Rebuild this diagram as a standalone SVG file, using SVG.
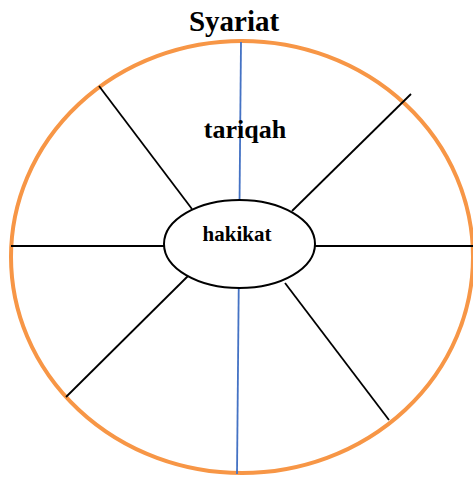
<svg xmlns="http://www.w3.org/2000/svg" width="473" height="478" viewBox="0 0 473 478">
<style>
.lbl{font-family:"Liberation Serif","Times New Roman",serif;font-weight:bold;fill:#000;text-anchor:middle}
.spoke{stroke:#000;stroke-width:1.8;fill:none}
</style>
<rect width="473" height="478" fill="#fff"/>
<g id="outer">
<ellipse cx="242" cy="257" rx="231" ry="216" fill="none" stroke="#F79646" stroke-width="4"/>
</g>
<g id="connectors">
<line x1="241" y1="42" x2="237" y2="474" stroke="#4472C4" stroke-width="1.8"/>
<line class="spoke" x1="11" y1="246" x2="164" y2="246"/>
<line class="spoke" x1="315" y1="246" x2="473" y2="246"/>
<line class="spoke" x1="99" y1="86" x2="192" y2="209"/>
<line class="spoke" x1="411" y1="94" x2="292" y2="211"/>
<line class="spoke" x1="189" y1="275" x2="66" y2="397"/>
<line class="spoke" x1="285" y1="283" x2="389" y2="420"/>
</g>
<g id="syariat">
<text class="lbl" x="234" y="31" font-size="29">Syariat</text>
</g>
<g id="tariqah">
<text class="lbl" x="245" y="138" font-size="26">tariqah</text>
</g>
<g id="hakikat">
<ellipse cx="239.5" cy="244" rx="75.5" ry="44" fill="#fff" stroke="#000" stroke-width="2"/>
<text class="lbl" x="237" y="241" font-size="21">hakikat</text>
</g>
</svg>
